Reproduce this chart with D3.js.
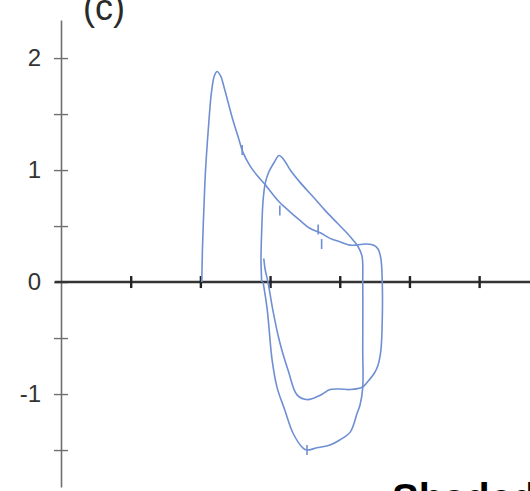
<!DOCTYPE html>
<html>
<head>
<meta charset="utf-8">
<script src="https://cdn.jsdelivr.net/npm/d3@7"></script>
<style>
  body { margin: 0; background: #fff; }
</style>
</head>
<body>
<div id="chart"></div>
<script>
// volume (x) / flow (y) pairs
const loopA = [
  [2.02, 0], [2.03, 0.3], [2.05, 0.65], [2.07, 0.95], [2.10, 1.25], [2.13, 1.5],
  [2.16, 1.7], [2.20, 1.84], [2.24, 1.88], [2.29, 1.84], [2.34, 1.74], [2.40, 1.60],
  [2.47, 1.44], [2.55, 1.28], [2.61, 1.16], [2.71, 1.04], [2.83, 0.94], [2.93, 0.87],
  [3.03, 0.79], [3.14, 0.71], [3.29, 0.625], [3.43, 0.55], [3.57, 0.48], [3.72, 0.44],
  [3.86, 0.39], [4.00, 0.36], [4.15, 0.33], [4.25, 0.33], [4.36, 0.34], [4.48, 0.33],
  [4.55, 0.295], [4.59, 0.21], [4.61, 0], [4.61, -0.34], [4.59, -0.61], [4.55, -0.74],
  [4.50, -0.81], [4.40, -0.89], [4.32, -0.94], [4.15, -0.96], [4.00, -0.955], [3.86, -0.96],
  [3.72, -1.01], [3.54, -1.05], [3.39, -1.01], [3.26, -0.79], [3.14, -0.54], [3.04, -0.25],
  [2.97, 0], [2.93, 0.11], [2.91, 0.21]
];

const loopB = [
  [2.88, 0], [2.87, 0.20], [2.88, 0.46], [2.90, 0.73], [2.93, 0.88], [2.98, 0.98],
  [3.06, 1.07], [3.13, 1.13], [3.20, 1.09], [3.29, 1.00], [3.43, 0.89], [3.62, 0.76],
  [3.79, 0.64], [3.96, 0.53], [4.10, 0.44], [4.19, 0.375], [4.26, 0.32], [4.32, 0.23],
  [4.33, 0], [4.33, -0.61], [4.33, -0.94], [4.29, -1.10], [4.25, -1.17], [4.15, -1.34],
  [4.00, -1.41], [3.86, -1.455], [3.67, -1.48], [3.53, -1.50], [3.47, -1.48], [3.33, -1.35],
  [3.21, -1.14], [3.10, -0.94], [3.03, -0.70], [2.96, -0.25], [2.90, 0]
];

// little hand-drawn time marks on the trace
const timeMarks = [[2.60, 1.18], [3.14, 0.64], [3.69, 0.47], [3.74, 0.34], [3.53, -1.50]];

const yTicks = [-1.5, -1, -0.5, 0, 0.5, 1, 1.5, 2];
const yLabels = [-1, 0, 1, 2];
const xTicks = [1, 2, 3, 4, 5, 6];

const width = 530;
const height = 491;

const svg = d3.select("#chart")
  .append("svg")
  .attr("width", width)
  .attr("height", height);

const x = d3.scaleLinear().domain([0, 6.73]).range([61, 530]);
const y = d3.scaleLinear().domain([-1.83, 2.34]).range([487, 20]);

// panel label, cut by the top edge
svg.append("text")
  .attr("x", 83)
  .attr("y", 20)
  .style("font-family", "Liberation Sans, Arial, sans-serif")
  .style("font-size", "36px")
  .style("fill", "#2a2a2a")
  .text("(c)");

// y axis
const yAxis = svg.append("g")
  .attr("transform", `translate(${x(0)},0)`)
  .call(d3.axisLeft(y)
    .tickValues(yTicks)
    .tickSizeInner(7)
    .tickSizeOuter(0)
    .tickFormat(d => yLabels.includes(d) ? String(d) : ""));

yAxis.select(".domain").attr("stroke", "#707070").attr("stroke-width", 1.6);
yAxis.selectAll(".tick line")
  .attr("x1", -7).attr("x2", 7)
  .attr("stroke", "#707070").attr("stroke-width", 1.4);
yAxis.selectAll(".tick text")
  .attr("x", -20)
  .style("font-family", "Liberation Sans, Arial, sans-serif")
  .style("font-size", "24px")
  .style("fill", "#333");

// x axis through zero
const xAxis = svg.append("g")
  .attr("transform", `translate(0,${y(0)})`)
  .call(d3.axisBottom(x).tickValues(xTicks).tickSize(5).tickFormat(""));

xAxis.select(".domain")
  .attr("d", `M${x(-0.09)},0H${x(6.73)}`)
  .attr("stroke", "#333").attr("stroke-width", 2.6);
xAxis.selectAll(".tick line")
  .attr("y1", -6).attr("y2", 6)
  .attr("stroke", "#222").attr("stroke-width", 2.4);

const line = d3.line()
  .x(d => x(d[0]))
  .y(d => y(d[1]))
  .curve(d3.curveCatmullRom.alpha(0.5));

svg.selectAll(".loop")
  .data([loopA, loopB])
  .enter()
  .append("path")
  .attr("class", "loop")
  .attr("d", line)
  .attr("fill", "none")
  .attr("stroke", "#6f8fd3")
  .attr("stroke-width", 1.6)
  .attr("stroke-linejoin", "round");

svg.selectAll(".mark")
  .data(timeMarks)
  .enter()
  .append("line")
  .attr("class", "mark")
  .attr("x1", d => x(d[0]))
  .attr("x2", d => x(d[0]))
  .attr("y1", d => y(d[1]) - 5)
  .attr("y2", d => y(d[1]) + 5)
  .attr("stroke", "#6f8fd3")
  .attr("stroke-width", 1.6);

// caption text below, mostly cut by the bottom edge
svg.append("text")
  .attr("x", 392)
  .attr("y", 512)
  .style("font-family", "Liberation Sans, Arial, sans-serif")
  .style("font-size", "40px")
  .style("font-weight", "bold")
  .style("fill", "#000")
  .text("Shaded");
</script>
</body>
</html>
